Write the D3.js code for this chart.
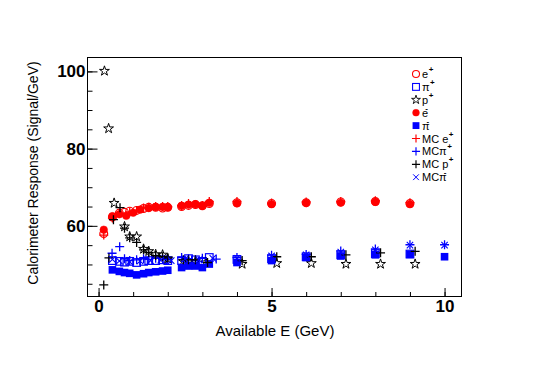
<!DOCTYPE html>
<html>
<head>
<meta charset="utf-8">
<script src="https://cdn.jsdelivr.net/npm/d3@7"></script>
<style>
  body { margin: 0; background: #fff; }
  svg { display: block; font-family: "Liberation Sans", Arial, sans-serif; }
</style>
</head>
<body>
<div id="chart"></div>
<script>
// [E, response] pairs
var ePlus = [[0.15,58.0],[0.4,62.3],[0.6,63.3],[0.75,63.5],[0.9,63.8],[1.1,64.0],[1.3,64.5],[1.45,64.8],[1.65,64.8],[1.85,64.6],[2.0,64.8],[2.4,65.0],[2.6,65.3],[2.8,65.5],[3.0,65.2],[3.2,65.8],[4,66.0],[5,65.8],[6,66.0],[7,66.2],[8,66.3],[9,65.8]];
var piPlus = [[0.4,51.0],[0.6,50.8],[0.75,50.6],[0.9,50.8],[1.1,50.5],[1.3,50.8],[1.45,51.0],[1.65,51.0],[1.85,51.2],[2.0,51.0],[2.4,51.0],[2.6,51.5],[2.8,51.2],[3.0,50.8],[3.2,51.8],[4,51.3],[5,51.5],[6,52.0],[7,52.5],[8,52.8],[9,52.7]];
var pPlus = [[0.17,100.1],[0.29,85.2],[0.45,65.9],[0.75,59.8],[0.9,57.2],[1.1,57.2],[1.3,54.0],[1.45,53.4],[1.65,52.6],[1.85,52.5],[2.0,51.5],[2.45,50.8],[2.6,50.8],[2.8,50.8],[3.1,50.5],[4.15,50.1],[5.15,50.3],[6.15,50.3],[7.15,50.1],[8.15,50.1],[9.15,50.1]];
var eMinus = [[0.15,59.0],[0.4,62.5],[0.6,63.0],[0.8,62.6],[1.0,63.4],[1.2,64.2],[1.45,64.6],[1.65,64.9],[1.85,64.9],[2.0,64.8],[2.4,65.2],[2.6,65.5],[2.8,65.6],[3.0,65.2],[3.2,66.0],[4,65.8],[5,65.6],[6,65.9],[7,66.0],[8,66.2],[9,65.6]];
var piMinus = [[0.4,48.6],[0.6,48.2],[0.75,47.9],[0.9,47.7],[1.1,47.3],[1.3,47.6],[1.45,47.9],[1.65,48.1],[1.85,48.3],[2.0,48.5],[2.4,49.2],[2.6,49.6],[2.8,49.6],[3.0,49.2],[3.2,50.1],[4,50.5],[5,51.0],[6,51.8],[7,52.2],[8,52.5],[9,52.6],[10,52.0]];
var mcEPlus = [[0.15,57.6],[0.4,62.0],[0.6,63.2],[0.9,63.6],[1.1,64.0],[1.3,64.6],[1.45,64.8],[1.65,65.0],[1.85,65.0],[2.0,65.0],[2.4,65.3],[2.6,65.8],[2.8,65.5],[3.0,65.3],[3.2,66.3],[4,66.3],[5,65.9],[6,66.2],[7,66.3],[8,66.5],[9,66.0]];
var mcPiPlus = [[0.39,52.9],[0.61,54.6],[0.75,51.5],[0.9,51.0],[1.1,51.2],[1.3,51.5],[1.45,51.3],[1.65,51.6],[1.85,51.4],[2.0,51.3],[2.4,51.8],[2.6,51.5],[2.8,51.0],[3.0,51.6],[3.4,51.4],[4,51.8],[5,52.4],[6,52.6],[7,53.5],[8,54.0],[9,55.1],[10,55.1]];
var mcPPlus = [[0.15,44.7],[0.3,51.7],[0.43,61.6],[0.62,64.7],[0.75,59.4],[0.9,56.9],[1.1,55.7],[1.3,53.8],[1.45,53.1],[1.65,52.3],[1.85,52.0],[2.0,51.7],[2.45,51.2],[2.6,51.2],[2.8,51.2],[3.15,50.5],[4.15,51.0],[5.15,52.0],[6.15,52.0],[7.15,52.5],[8.15,53.0],[9.15,53.4]];
var mcPiMinus = [[0.4,51.3],[0.6,50.9],[0.9,50.7],[1.2,50.9],[1.5,51.0],[1.8,51.1],[2.1,51.0],[2.5,51.4],[2.9,51.2],[3.3,51.6],[4,51.6],[5,52.2],[6,52.5],[7,53.2],[8,53.8],[9,55.0],[10,55.0]];

var xTicksMajor = [0, 5, 10],
    yTicksMajor = [60, 80, 100];

var series = [
  {label: "e", sup: "+", data: ePlus, shape: "circle", fill: false, color: "#ff0000"},
  {label: "\u03c0", sup: "+", data: piPlus, shape: "square", fill: false, color: "#0000ff"},
  {label: "p", sup: "+", data: pPlus, shape: "star", fill: false, color: "#000000"},
  {label: "e", sup: "-", data: eMinus, shape: "circle", fill: true, color: "#ff0000"},
  {label: "\u03c0", sup: "-", data: piMinus, shape: "square", fill: true, color: "#0000ff"},
  {label: "MC e", sup: "+", data: mcEPlus, shape: "plus", fill: false, color: "#ff0000"},
  {label: "MC\u03c0", sup: "+", data: mcPiPlus, shape: "plus", fill: false, color: "#0000ff"},
  {label: "MC p", sup: "+", data: mcPPlus, shape: "plus", fill: false, color: "#000000"},
  {label: "MC\u03c0", sup: "-", data: mcPiMinus, shape: "cross", fill: false, color: "#0000ff"}
];

var width = 546, height = 370,
    frame = {left: 87.5, right: 461.5, top: 57.5, bottom: 296.5};

var x = d3.scaleLinear().domain([-0.32, 10.49]).range([frame.left, frame.right]);
var y = d3.scaleLinear().domain([41.7, 103.6]).range([frame.bottom, frame.top]);

var svg = d3.select("#chart").append("svg")
    .attr("width", width)
    .attr("height", height);

svg.append("rect")
    .attr("width", width).attr("height", height)
    .attr("fill", "#fff");

function marker(g, shape, fill, color) {
  if (shape === "circle") {
    g.append("circle").attr("r", fill ? 3.8 : 3.9)
      .attr("fill", fill ? color : "none")
      .attr("stroke", color).attr("stroke-width", fill ? 0.5 : 1.2);
  } else if (shape === "square") {
    g.append("rect").attr("x", -3.8).attr("y", -3.8).attr("width", 7.6).attr("height", 7.6)
      .attr("fill", fill ? color : "none")
      .attr("stroke", color).attr("stroke-width", fill ? 0 : 1.2);
  } else if (shape === "star") {
    g.append("path").attr("d", d3.symbol(d3.symbolStar, 30)())
      .attr("fill", "none").attr("stroke", color).attr("stroke-width", 1);
  } else if (shape === "plus") {
    g.append("path").attr("d", "M-4.5,0H4.5M0,-4.5V4.5")
      .attr("stroke", color).attr("stroke-width", 1.3);
  } else {
    g.append("path").attr("d", "M-3.2,-3.2L3.2,3.2M-3.2,3.2L3.2,-3.2")
      .attr("stroke", color).attr("stroke-width", 1.1);
  }
}

// data markers
series.forEach(function(s) {
  svg.append("g").selectAll("g")
    .data(s.data)
    .join("g")
    .attr("transform", function(d) { return "translate(" + x(d[0]) + "," + y(d[1]) + ")"; })
    .each(function() { marker(d3.select(this), s.shape, s.fill, s.color); });
});

// axes, ticks pointing inward
var xMinor = d3.axisBottom(x).tickValues(d3.range(0, 11)).tickSize(-4.5).tickFormat("");
var xMajor = d3.axisBottom(x).tickValues(xTicksMajor).tickSize(-8.5).tickPadding(3).tickFormat(d3.format("d"));
var yMinor = d3.axisLeft(y).tickValues(d3.range(45, 104, 5)).tickSize(-5).tickFormat("");
var yMajor = d3.axisLeft(y).tickValues(yTicksMajor).tickSize(-10).tickPadding(2).tickFormat(d3.format("d"));

[xMinor, xMajor].forEach(function(a) {
  svg.append("g").attr("transform", "translate(0," + frame.bottom + ")").call(a);
});
[yMinor, yMajor].forEach(function(a) {
  svg.append("g").attr("transform", "translate(" + frame.left + ",0)").call(a);
});
svg.selectAll(".domain").remove();
svg.selectAll(".tick line").attr("stroke", "#000").attr("stroke-width", 1);
svg.selectAll(".tick text")
    .attr("fill", "#000")
    .style("font-size", "17px")
    .style("font-weight", "bold");

svg.append("rect")
    .attr("x", frame.left).attr("y", frame.top)
    .attr("width", frame.right - frame.left)
    .attr("height", frame.bottom - frame.top)
    .attr("fill", "none").attr("stroke", "#000").attr("stroke-width", 1);

// titles
svg.append("text")
    .attr("x", 275).attr("y", 336)
    .attr("text-anchor", "middle")
    .style("font-size", "15px")
    .text("Available E (GeV)");

svg.append("text")
    .attr("transform", "translate(38,173) rotate(-90)")
    .attr("text-anchor", "middle")
    .style("font-size", "14px")
    .text("Calorimeter Response (Signal/GeV)");

// legend (no box)
var row = svg.append("g").selectAll("g")
  .data(series)
  .join("g")
  .attr("transform", function(d, i) { return "translate(416," + (74 + i * 12.9) + ")"; });

row.each(function(s) {
  var g = d3.select(this);
  var m = g.append("g").attr("transform", "scale(0.9)");
  marker(m, s.shape, s.fill, s.color);
  var t = g.append("text")
      .attr("x", 6).attr("y", 4)
      .style("font-size", "11px");
  t.append("tspan").text(s.label);
  t.append("tspan")
      .attr("dx", s.sup === "-" ? -3 : 0.5)
      .attr("dy", -6)
      .style("font-size", "8px")
      .style("font-weight", "bold")
      .text(s.sup);
});
</script>
</body>
</html>
